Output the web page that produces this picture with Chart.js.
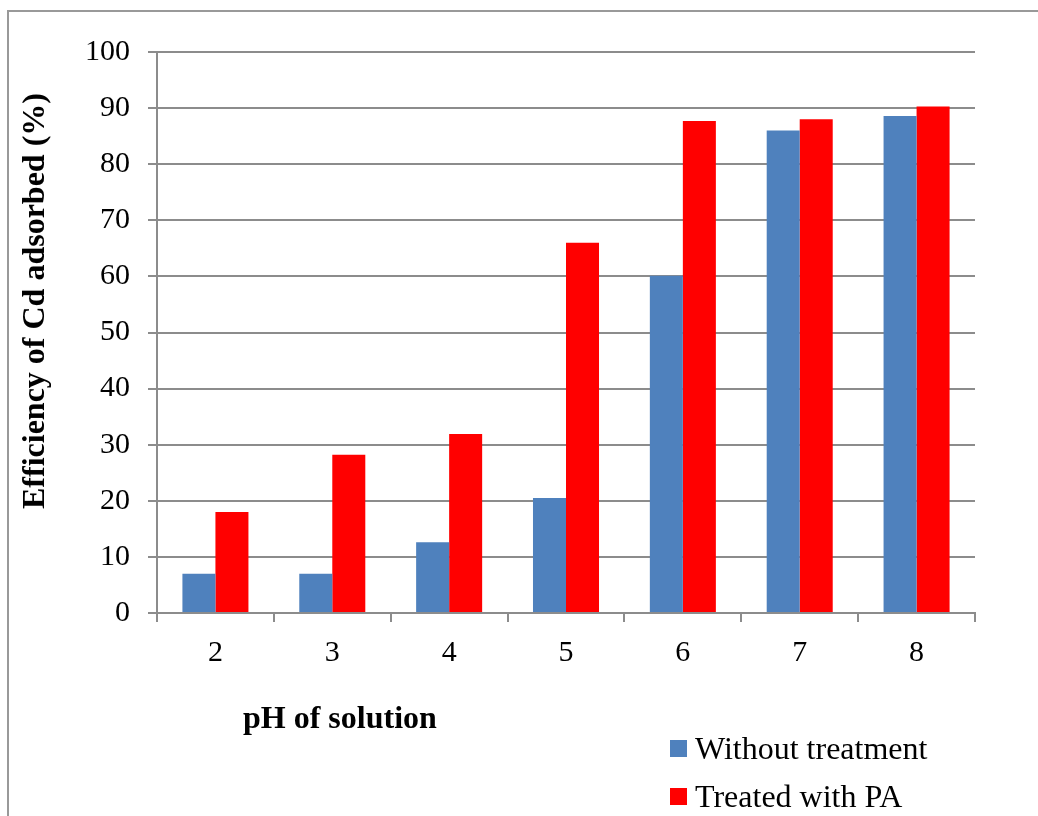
<!DOCTYPE html>
<html>
<head>
<meta charset="utf-8">
<script src="https://cdn.jsdelivr.net/npm/chart.js@4"></script>
<style>
  html, body { margin: 0; padding: 0; background: #fff; }
  #wrap { position: relative; width: 1038px; height: 816px; overflow: hidden; font-family: "Liberation Serif", "Times New Roman", serif; }
  #frame { position: absolute; left: 7px; top: 10px; width: 1100px; height: 900px; border: 2px solid #999; box-sizing: border-box; }
  #chart { position: absolute; left: 0; top: 0; }
  #xtitle { position: absolute; left: 243px; top: 699px; font-size: 32px; font-weight: bold; line-height: 36px; white-space: nowrap; }
  #ytitle { position: absolute; left: 33px; top: 301px; font-size: 32px; font-weight: bold; line-height: 36px; white-space: nowrap; transform: translate(-50%, -50%) rotate(-90deg); }
  .leg { position: absolute; left: 670px; font-size: 32px; line-height: 36px; white-space: nowrap; }
  .leg span { display: inline-block; width: 17px; height: 17px; margin-right: 8px; vertical-align: 2px; }
</style>
</head>
<body>
<div id="wrap">
  <div id="frame"></div>
  <canvas id="chart" width="1038" height="816"></canvas>
  <div id="ytitle">Efficiency of Cd adsorbed (%)</div>
  <div id="xtitle">pH of solution</div>
  <div id="legend"></div>
</div>
<script>
const phLabels = ["2", "3", "4", "5", "6", "7", "8"];
const withoutTreatment = [7.0, 7.0, 12.6, 20.5, 60.1, 86.0, 88.6];
const treatedWithPA = [18.0, 28.2, 31.9, 66.0, 87.7, 88.0, 90.3];
const seriesNames = ["Without treatment", "Treated with PA"];
const seriesColors = ["#4F81BD", "#FF0000"];
const yTicks = [0, 10, 20, 30, 40, 50, 60, 70, 80, 90, 100];

const serif = "'Liberation Serif', 'Times New Roman', serif";
const gridGray = "#8c8c8c";

const ctx = document.getElementById("chart").getContext("2d");
const chart = new Chart(ctx, {
  type: "bar",
  data: {
    labels: phLabels,
    datasets: [
      {
        label: seriesNames[0],
        data: withoutTreatment,
        backgroundColor: seriesColors[0],
        categoryPercentage: 0.565,
        barPercentage: 1.0,
      },
      {
        label: seriesNames[1],
        data: treatedWithPA,
        backgroundColor: seriesColors[1],
        categoryPercentage: 0.565,
        barPercentage: 1.0,
      },
    ],
  },
  options: {
    responsive: false,
    animation: false,
    devicePixelRatio: 1,
    layout: { padding: { left: 0, top: 52, right: 63, bottom: 0 } },
    plugins: {
      legend: { display: false },
      tooltip: { enabled: false },
    },
    scales: {
      x: {
        offset: true,
        grid: {
          offset: true,
          drawOnChartArea: false,
          drawTicks: true,
          tickLength: 9,
          color: gridGray,
          lineWidth: 2,
        },
        border: { color: gridGray, width: 2 },
        ticks: {
          font: { family: serif, size: 30 },
          color: "#000",
          padding: 13,
          maxRotation: 0,
        },
        afterFit: (scale) => { scale.height = 203; },
      },
      y: {
        min: 0,
        max: 100,
        afterBuildTicks: (scale) => { scale.ticks = yTicks.map(v => ({ value: v })); },
        grid: {
          color: gridGray,
          lineWidth: 2,
          drawTicks: true,
          tickLength: 9,
        },
        border: { color: gridGray, width: 2 },
        ticks: {
          font: { family: serif, size: 30 },
          color: "#000",
          padding: 18,
        },
        afterFit: (scale) => { scale.width = 157; },
      },
    },
  },
});

// legend built from the datasets
const legend = document.getElementById("legend");
chart.data.datasets.forEach((ds, i) => {
  const item = document.createElement("div");
  item.className = "leg";
  item.style.top = (730 + i * 48) + "px";
  item.innerHTML = `<span style="background:${ds.backgroundColor}"></span>${ds.label}`;
  legend.appendChild(item);
});
</script>
</body>
</html>
